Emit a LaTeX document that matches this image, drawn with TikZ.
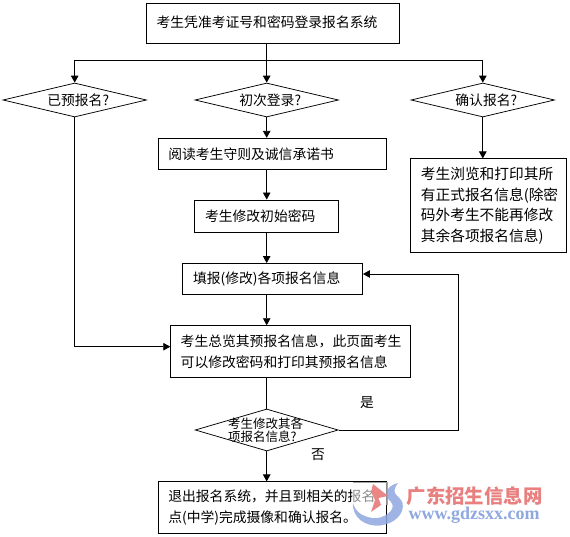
\documentclass[tikz,border=0pt]{standalone}
\usepackage{fontspec}
\setmainfont{Noto Sans CJK SC}
\newfontfamily\wwwfont{Liberation Serif}
\usetikzlibrary{shapes.geometric,arrows.meta}
\definecolor{wmred}{HTML}{E98080}
\definecolor{wmblue}{HTML}{8FA8E0}
\newcommand{\fixedrun}[2]{\makebox[#1em][l]{#2}}
\tikzset{
  cjkfont/.style={font=\fontsize{13.8}{20.5}\selectfont},
  flowbox/.style={draw,line width=0.9pt,rectangle,inner sep=0pt,cjkfont,align=left,anchor=center},
  query/.style={draw,line width=0.75pt,diamond,inner sep=0pt,aspect=3.8,anchor=center},
  qtext/.style={cjkfont,xshift=3.5pt},
  link/.style={line width=0.9pt},
  arr/.style={line width=0.9pt,-{Triangle[width=7.5pt,length=7pt]}},
  plainlabel/.style={font=\fontsize{13.8}{16}\selectfont,inner sep=0pt}
}
\begin{document}
\begin{tikzpicture}[x=1pt,y=-1pt]
\useasboundingbox[fill=white] (0,0) rectangle (570,537);
\node[flowbox,minimum width=252.4pt,minimum height=39.4pt,text width=232.4pt] (top) at (272.8,23.3) {\raisebox{3pt}{考生凭准考证号和密码登录报名系统}};
\coordinate (bus) at (266.7,60);
\node[query,minimum width=143.5pt,minimum height=34pt,label={[qtext]center:已预报名?}] (d1) at (74.7,100) {};
\node[query,minimum width=143.5pt,minimum height=34pt,label={[qtext]center:初次登录?}] (d2) at (266.7,100) {};
\node[query,minimum width=143.5pt,minimum height=34pt,label={[qtext]center:确认报名?}] (d3) at (482.8,100) {};
\node[flowbox,minimum width=228.4pt,minimum height=31pt,text width=208.4pt] (read) at (272.5,153.8) {阅读考生守则及诚信承诺书};
\node[flowbox,minimum width=144pt,minimum height=32pt,text width=123pt] (pwd) at (266.5,216) {考生修改初始密码};
\node[flowbox,minimum width=180pt,minimum height=31pt,text width=159pt] (fill) at (272.5,279) {填报(修改)各项报名信息};
\node[flowbox,minimum width=240pt,minimum height=51.6pt,text width=220pt] (view) at (290.7,351.5) {\fixedrun{10}{考生总览其预报名信息}\fixedrun{1}{，}\fixedrun{5}{此页面考生}\\可以修改密码和打印其预报名信息};
\node[flowbox,minimum width=155.3pt,minimum height=93.7pt,text width=135pt,font=\fontsize{14.7}{20.7}\selectfont] (conf) at (488.4,205.8) {考生浏览和打印其所\\有正式报名信息(除密\\码外考生不能再修改\\其余各项报名信息)};
\node[query,minimum width=143pt,minimum height=42pt,label={[font=\fontsize{12.5}{13.2}\selectfont,align=left,xshift=-1pt]center:考生修改其各\\项报名信息?}] (d4) at (266.7,430) {};
\node[flowbox,minimum width=228.4pt,minimum height=51.6pt,text width=208.4pt] (quit) at (272.5,507.7) {\fixedrun{6}{退出报名系统}\fixedrun{1}{，}\fixedrun{8}{并且到相关的报名}\\点(中学)完成摄像和确认报名。};
\coordinate (back) at (458.4,430);
\coordinate (backtop) at (458.4,274);
\coordinate (entry) at (74.7,346.7);
\node[plainlabel] (yes) at (367,403) {是};
\node[plainlabel] (no) at (318,454.5) {否};
% connectors
\draw[link] (bus |- top.south) -- (bus);
\draw[arr] (bus) -| (d1.north);
\draw[arr] (bus) -- (d2.north);
\draw[arr] (bus) -| (d3.north);
\draw[arr] (d2.south) -- (d2.south |- read.north);
\draw[arr] (d2.south |- read.south) -- (d2.south |- pwd.north);
\draw[arr] (d2.south |- pwd.south) -- (d2.south |- fill.north);
\draw[arr] (d2.south |- fill.south) -- (d2.south |- view.north);
\draw[link] (d2.south |- view.south) -- (d4.north);
\draw[arr] (d4.south) -- (d4.south |- quit.north);
\draw[arr] (d3.south) -- (d3.south |- conf.north);
\draw[arr] (d1.south) -- (entry) -- (entry -| view.west);
\draw[arr] (d4.east) -- (back) -- (backtop) -- (backtop -| fill.east);
% watermark
\fill[white,opacity=0.55] (352,482.5) rectangle (388.5,505);
\draw[gray!70,line width=0.6pt] (353,482) -- (387,482) -- (387,505);
\fill[wmblue,opacity=0.85] (353,503) .. controls (352,518) and (366,527) .. (380,525.5) .. controls (395,524) and (405,513) .. (402.5,503) .. controls (400,495) and (389,495) .. (398,483) .. controls (386,486) and (383,495) .. (391,502) .. controls (398,510) and (382,520) .. (372,518) .. controls (361,516) and (355,511) .. (353,503) -- cycle;
\fill[wmred,opacity=0.95] (373,484) -- (388,496) -- (378.5,498) -- (381,505) -- (371,512) -- (375,500) -- (371,492) -- cycle;
\node[inner sep=0pt,text=wmred,font=\fontsize{19.4}{22}\bfseries\selectfont,anchor=center] (wmname) at (474.5,496.5) {广东招生信息网};
\node[inner sep=0pt,text=wmblue,font=\wwwfont\fontsize{18}{20}\bfseries\selectfont,anchor=center] (wmurl) at (474,515.5) {www.gdzsxx.com};
\end{tikzpicture}
\end{document}
